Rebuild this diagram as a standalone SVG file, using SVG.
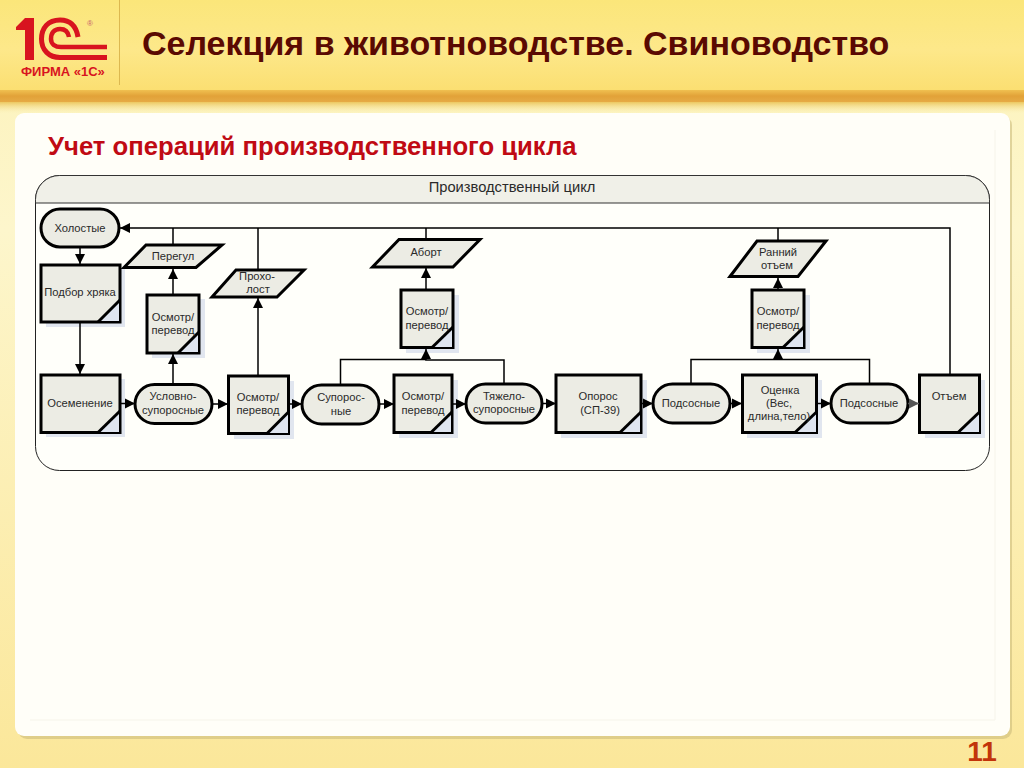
<svg xmlns="http://www.w3.org/2000/svg" width="1024" height="768" viewBox="0 0 1024 768">
<style>
text{font-family:"Liberation Sans",Arial,sans-serif}
.n{fill:#ecece4;stroke:#000;stroke-width:3;stroke-linejoin:miter}
.sh{fill:#c9d1e6;opacity:.55}
.t{font-size:11.200px;fill:#2a2a2a;text-anchor:middle}
.c{fill:none;stroke:#000;stroke-width:1.500}
.f{fill:#dfe5f0;stroke:none}
.d{fill:none;stroke:#000;stroke-width:3}
.lg{fill:none;stroke:#d8141f}
</style>
<defs>
<linearGradient id="bg" x1="0" y1="0" x2="0" y2="1"><stop offset="0" stop-color="#fcf2b8"/><stop offset=".3" stop-color="#fdf6cc"/><stop offset="1" stop-color="#fbe79a"/></linearGradient>
<linearGradient id="hd" x1="0" y1="0" x2="0" y2="1"><stop offset="0" stop-color="#fbe67a"/><stop offset=".55" stop-color="#fde88a"/><stop offset="1" stop-color="#fbdf72"/></linearGradient>
<linearGradient id="bar" x1="0" y1="0" x2="0" y2="1"><stop offset="0" stop-color="#f0c050"/><stop offset=".5" stop-color="#e2a238"/><stop offset="1" stop-color="#e6ab45"/></linearGradient>
<linearGradient id="ds" x1="0" y1="0" x2="0" y2="1"><stop offset="0" stop-color="#ecc860"/><stop offset="1" stop-color="#fcf2b8" stop-opacity="0"/></linearGradient>
<marker id="a" markerUnits="userSpaceOnUse" markerWidth="12" markerHeight="12" refX="11" refY="6" orient="auto"><path d="M1,1 L11,6 L1,11 Z" fill="#000"/></marker>
<marker id="g" markerUnits="userSpaceOnUse" markerWidth="12" markerHeight="12" refX="11" refY="6" orient="auto"><path d="M1,1 L11,6 L1,11 Z" fill="#555"/></marker>
</defs>

<g id="background">
<rect width="1024" height="768" fill="url(#bg)"/>
<rect width="1024" height="90" fill="url(#hd)"/>
<rect y="90" width="1024" height="12" fill="url(#bar)"/>
<rect y="102" width="1024" height="12" fill="url(#ds)"/>
<rect x="119" y="0" width="1" height="85" fill="#dcb850"/>
<rect x="18" y="116" width="994" height="623" rx="9" fill="#c8b878" opacity=".55"/>
<rect x="15" y="113" width="995" height="623" rx="9" fill="#fffef8"/>
<path d="M30,720 H995 V130" fill="none" stroke="#f6f4ea"/>
</g>

<g id="logo">
<path d="M16,30 L25,30 L25,60 L34,60 L34,18 L25,18 L16,27 Z" fill="#d8141f"/>
<path class="lg" stroke-width="5" d="M78,37 C76,25 70,20 60,20 C48,20 41.500,28 41.500,39 C41.500,50 49,57.500 60,57.500 L107,57.500"/>
<path class="lg" stroke-width="4.500" d="M69,37 C68,31 65,29 60,29 C54,29 51,33 51,39 C51,44 55,47 61,47 L107,47"/>
<text x="90" y="26" font-size="8" fill="#c8606a" text-anchor="middle">®</text>
<text x="21" y="76" font-size="13" font-weight="700" fill="#d8141f">ФИРМА «1С»</text>
</g>

<text x="142" y="55" font-size="34" font-weight="700" fill="#5a0a02">Селекция в животноводстве. Свиноводство</text>
<text x="48" y="155" font-size="25.700" font-weight="700" fill="#c00a14">Учет операций производственного цикла</text>
<text x="982" y="761" font-size="28" font-weight="700" fill="#c2340a" text-anchor="middle">11</text>

<g id="swimlane">
<rect x="35.500" y="175.500" width="954" height="295" rx="24" fill="#fffffa" stroke="#222" stroke-width="1"/>
<path d="M35.500,203 L35.500,199.500 A24,24 0 0 1 59.500,175.500 L965.500,175.500 A24,24 0 0 1 989.500,199.500 L989.500,203 Z" fill="#f0f0e8" stroke="#333" stroke-width="1"/>
<text class="t" x="512" y="192" style="font-size:14.700px">Производственный цикл</text>
</g>

<g id="n-holostye"><rect class="n" x="41" y="209" width="78" height="38" rx="19"/><text class="t" x="80" y="232">Холостые</text></g>
<g id="n-podbor"><rect class="sh" x="46" y="269" width="79" height="58"/><rect class="n" x="41" y="265" width="79" height="57"/><path class="f" d="M98,321 L119,300 V321 Z"/><path class="d" d="M98,322 L120,300"/><text class="t" x="80" y="296">Подбор хряка</text></g>
<g id="n-peregul"><path class="n" d="M124,267.500 L146,245 H222 L196,267.500 Z"/><text class="t" x="173" y="260">Перегул</text></g>
<g id="n-osmotr1"><rect class="sh" x="152" y="299" width="53" height="59"/><rect class="n" x="147" y="295" width="52" height="58"/><path class="f" d="M178,352 L198,332 V352 Z"/><path class="d" d="M178,353 L199,332"/><text class="t" x="173" y="321">Осмотр/</text><text class="t" x="173" y="334">перевод</text></g>
<g id="n-proholost"><path class="n" d="M212,297 L236,270 H304 L277,297 Z"/><text class="t" x="257" y="280">Прохо-</text><text class="t" x="258" y="293">лост</text></g>
<g id="n-osemenenie"><rect class="sh" x="46" y="379" width="79" height="58"/><rect class="n" x="41" y="375" width="79" height="57.500"/><path class="f" d="M98,432 L119,411 V432 Z"/><path class="d" d="M98,432.500 L120,411"/><text class="t" x="80" y="407">Осеменение</text></g>
<g id="n-uslovno"><rect class="n" x="135" y="384.500" width="77" height="39" rx="19.500"/><text class="t" x="173" y="400">Условно-</text><text class="t" x="173" y="414">супоросные</text></g>
<g id="n-osmotr2"><rect class="sh" x="234" y="381" width="60" height="58"/><rect class="n" x="228.500" y="376" width="60" height="57.500"/><path class="f" d="M267,433 L288,412 V433 Z"/><path class="d" d="M267,433.500 L288.500,412"/><text class="t" x="258" y="401">Осмотр/</text><text class="t" x="258" y="414">перевод</text></g>
<g id="n-suporos"><rect class="n" x="302" y="385" width="77" height="39" rx="19.500"/><text class="t" x="341" y="401">Супорос-</text><text class="t" x="341" y="415">ные</text></g>
<g id="n-osmotr3"><rect class="sh" x="399" y="380" width="59" height="58"/><rect class="n" x="394" y="375" width="58" height="57.500"/><path class="f" d="M431,432 L451,412 V432 Z"/><path class="d" d="M431,432.500 L452,412"/><text class="t" x="423" y="400">Осмотр/</text><text class="t" x="423" y="414">перевод</text></g>
<g id="n-tyazhelo"><rect class="n" x="466" y="384" width="76" height="39" rx="19.500"/><text class="t" x="504" y="400">Тяжело-</text><text class="t" x="504" y="413">супоросные</text></g>
<g id="n-opros"><rect class="sh" x="561" y="380" width="86" height="58"/><rect class="n" x="556" y="375" width="85" height="57.500"/><path class="f" d="M620,432 L640,412 V432 Z"/><path class="d" d="M620,432.500 L641,412"/><text class="t" x="598" y="400">Опорос</text><text class="t" x="600" y="414">(СП-39)</text></g>
<g id="n-abort"><path class="n" d="M372.500,267 L399,239.500 H480 L453,267 Z"/><text class="t" x="426" y="256">Аборт</text></g>
<g id="n-osmotr4"><rect class="sh" x="406" y="295" width="53" height="58"/><rect class="n" x="401" y="290" width="52" height="57.500"/><path class="f" d="M432,347 L452,327 V347 Z"/><path class="d" d="M432,347.500 L453,327"/><text class="t" x="427" y="315">Осмотр/</text><text class="t" x="427" y="329">перевод</text></g>
<g id="n-podsos1"><rect class="n" x="653" y="384" width="77" height="39" rx="19.500"/><text class="t" x="691" y="407">Подсосные</text></g>
<g id="n-ocenka"><rect class="sh" x="747" y="380" width="75" height="58"/><rect class="n" x="742.500" y="375" width="74" height="57.500"/><path class="f" d="M796,432 L816,412 V432 Z"/><path class="d" d="M795,432.500 L816.500,412"/><text class="t" x="780" y="394">Оценка</text><text class="t" x="779" y="407">(Вес,</text><text class="t" x="779" y="420">длина,тело)</text></g>
<g id="n-podsos2"><rect class="n" x="831" y="384" width="77" height="39" rx="19.500"/><text class="t" x="869" y="407">Подсосные</text></g>
<g id="n-otem"><rect class="sh" x="925" y="380" width="60" height="58"/><rect class="n" x="919.500" y="375" width="60" height="57.500"/><path class="f" d="M958,432 L979,412 V432 Z"/><path class="d" d="M958,432.500 L979.500,412"/><text class="t" x="949" y="400">Отъем</text></g>
<g id="n-ranniy"><path class="n" d="M730,276.500 L757,241 H826 L798,276.500 Z"/><text class="t" x="778" y="256">Ранний</text><text class="t" x="777" y="269">отъем</text></g>
<g id="n-osmotr5"><rect class="sh" x="757" y="295" width="53" height="58"/><rect class="n" x="752" y="290" width="52" height="57.500"/><path class="f" d="M783,347 L803,327 V347 Z"/><path class="d" d="M783,347.500 L804,327"/><text class="t" x="778" y="315">Осмотр/</text><text class="t" x="778" y="329">перевод</text></g>

<g id="connectors">
<path class="c" d="M950,375 V228 H120" marker-end="url(#a)"/>
<path class="c" d="M778,240 V228 M426,238 V228 M258,269 V228 M173,244 V228"/>
<path class="c" d="M80,247 V264" marker-end="url(#a)"/>
<path class="c" d="M80,322 V374" marker-end="url(#a)"/>
<path class="c" d="M120,403.500 H135" marker-end="url(#a)"/>
<path class="c" d="M212,404 H228" marker-end="url(#a)"/>
<path class="c" d="M288,404 H302" marker-end="url(#a)"/>
<path class="c" d="M379,404 H394" marker-end="url(#a)"/>
<path class="c" d="M452,404 H466" marker-end="url(#a)"/>
<path class="c" d="M542,403.500 H556" marker-end="url(#a)"/>
<path class="c" d="M641,403.500 H653" marker-end="url(#a)"/>
<path class="c" d="M730,403.500 H742" marker-end="url(#a)"/>
<path class="c" d="M817,403.500 H831" marker-end="url(#a)"/>
<path class="c" d="M908,403.500 H919" marker-end="url(#g)" style="stroke:#555"/>
<path class="c" d="M173,384 V354" marker-end="url(#a)"/>
<path class="c" d="M173,295 V269" marker-end="url(#a)"/>
<path class="c" d="M258,376 V298" marker-end="url(#a)"/>
<path class="c" d="M340.500,385 V359.500 H426"/>
<path class="c" d="M504,384 V360 H426 V349" marker-end="url(#a)"/>
<path class="c" d="M426,290 V268" marker-end="url(#a)"/>
<path class="c" d="M691,384 V359.500 H869.500 V384"/>
<path class="c" d="M778,359.500 V349" marker-end="url(#a)"/>
<path class="c" d="M778,290 V278" marker-end="url(#a)"/>
</g>
</svg>
